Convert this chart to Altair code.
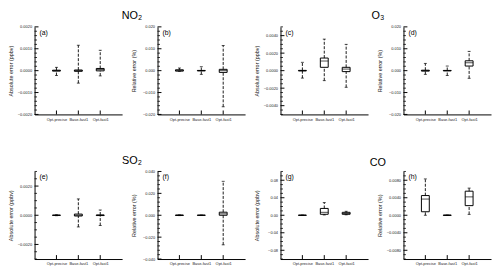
import altair as alt
import pandas as pd
import numpy as np

FONT = "Liberation Sans"
categories = ["Opt-precise", "Base-fast1", "Opt-fast1"]

# (a) NO2 absolute error (ppbv)
a_low  = [-0.00022, -0.00057, -0.00024]
a_q1   = [-0.00002, -0.00003, -0.00001]
a_med  = [0.0, 0.0, 0.00005]
a_q3   = [0.00002, 0.00003, 0.0001]
a_high = [0.00015, 0.00116, 0.00093]
# (b) NO2 relative error (%)
b_low  = [-0.0003, -0.0017, -0.0165]
b_q1   = [-0.0002, -0.0001, -0.0008]
b_med  = [0.0, 0.0, 0.0]
b_q3   = [0.0004, 0.0001, 0.0006]
b_high = [0.0012, 0.0018, 0.0115]
# (c) O3 absolute error (ppbv)
c_low  = [-0.00085, -0.00114, -0.0019]
c_q1   = [-0.00003, 0.00038, -0.00011]
c_med  = [0.0, 0.0011, 0.00018]
c_q3   = [0.00003, 0.00144, 0.00038]
c_high = [0.00095, 0.0036, 0.003]
# (d) O3 relative error (%)
d_low  = [-0.0017, -0.0022, -0.0035]
d_q1   = [-0.0002, -0.0001, 0.0021]
d_med  = [0.0, 0.0, 0.0036]
d_q3   = [0.0002, 0.0001, 0.0045]
d_high = [0.0033, 0.0021, 0.0088]
# (e) SO2 absolute error (ppbv)
e_low  = [-0.00003, -0.0008, -0.0007]
e_q1   = [-0.00001, -0.00005, -0.00002]
e_med  = [0.0, 0.0, 0.0]
e_q3   = [0.00001, 0.00008, 0.00002]
e_high = [0.00003, 0.00112, 0.00036]
# (f) SO2 relative error (%)
f_low  = [-0.0003, -0.0002, -0.027]
f_q1   = [-0.0002, -0.0001, 0.0]
f_med  = [0.0, 0.0, 0.0013]
f_q3   = [0.0002, 0.0001, 0.0028]
f_high = [0.0003, 0.0002, 0.031]
# (g) CO absolute error (ppbv)
g_low  = [-0.0005, 0.0007, 0.001]
g_q1   = [-0.0003, 0.0022, 0.0022]
g_med  = [0.0, 0.0067, 0.004]
g_q3   = [0.0003, 0.0156, 0.0067]
g_high = [0.0005, 0.029, 0.009]
# (h) CO relative error (%)
h_low  = [0.0, -0.00005, 0.0002]
h_q1   = [0.0008, -0.00003, 0.0022]
h_med  = [0.0037, 0.0, 0.0042]
h_q3   = [0.0045, 0.00003, 0.0055]
h_high = [0.0083, 0.00005, 0.0062]

ABS = "Absolute error (ppbv)"
REL = "Relative error (%)"

W, H = 89, 89


def panel(label, ytitle, low, q1, med, q3, high, dom, major, minor_step, fmt):
    df = pd.DataFrame({"cat": categories, "low": low, "q1": q1, "med": med,
                       "q3": q3, "high": high})
    yscale = alt.Scale(domain=dom, nice=False, zero=False)
    yaxis = alt.Axis(values=major, format=fmt, title=ytitle, ticks=False,
                     grid=False, labelFontSize=4, titleFontSize=5.5,
                     titleFontWeight="normal", titleColor="#222",
                     labelColor="#222", domainColor="black", domainWidth=1,
                     minExtent=19, maxExtent=19, labelPadding=3,
                     titlePadding=2, labelFlush=False)
    xenc = alt.X("cat:N", sort=categories,
                 scale=alt.Scale(type="point", domain=categories, padding=1),
                 axis=alt.Axis(title=None, labelAngle=0, ticks=False,
                               labelFontSize=4, labelColor="#222",
                               labelPadding=3, domainColor="black",
                               domainWidth=1, minExtent=10, maxExtent=10))
    base = alt.Chart(df).encode(x=xenc)

    def Y(f):
        return alt.Y(f + ":Q", scale=yscale, axis=yaxis)

    wh_up = base.mark_rule(color="black", strokeWidth=0.9, strokeDash=[3, 1.5]).encode(
        y=Y("q3"), y2="high")
    wh_dn = base.mark_rule(color="black", strokeWidth=0.9, strokeDash=[3, 1.5]).encode(
        y=Y("low"), y2="q1")
    box = base.mark_bar(size=8, fill="white", stroke="black", strokeWidth=1).encode(
        y=Y("q1"), y2="q3")
    mid = base.mark_tick(size=8, thickness=1, color="black").encode(y=Y("med"))
    cap_hi = base.mark_tick(size=3, thickness=1, color="black").encode(y=Y("high"))
    cap_lo = base.mark_tick(size=3, thickness=1, color="black").encode(y=Y("low"))

    xt = base.mark_rule(color="black", strokeWidth=1).encode(
        y=alt.value(H - 4), y2=alt.value(H))

    n = int(round((dom[1] - dom[0]) / minor_step))
    allv = [dom[0] + i * minor_step for i in range(n + 1)]
    minor_v = [v for v in allv if min(abs(v - m) for m in major) > minor_step / 4]
    tmaj = alt.Chart(pd.DataFrame({"v": major})).mark_rule(
        color="black", strokeWidth=1).encode(
        y=Y("v"), x=alt.value(0), x2=alt.value(4))
    tmin = alt.Chart(pd.DataFrame({"v": minor_v})).mark_rule(
        color="black", strokeWidth=0.8).encode(
        y=Y("v"), x=alt.value(0), x2=alt.value(2.5))
    lab = alt.Chart(pd.DataFrame({"t": [label]})).mark_text(
        align="left", baseline="top", fontSize=7, font=FONT, color="black").encode(
        text="t:N", x=alt.value(5), y=alt.value(2))

    return alt.layer(box, wh_up, wh_dn, mid, cap_hi, cap_lo, xt, tmaj, tmin,
                     lab).properties(width=W, height=H)


def ticks(step, k):
    return [round(i * step, 6) for i in range(-k, k + 1)]


pa = panel("(a)", ABS, a_low, a_q1, a_med, a_q3, a_high, [-0.002, 0.002],
           ticks(0.001, 2), 0.0002, ".4f")
pb = panel("(b)", REL, b_low, b_q1, b_med, b_q3, b_high, [-0.02, 0.02],
           ticks(0.01, 2), 0.002, ".3f")
pc = panel("(c)", ABS, c_low, c_q1, c_med, c_q3, c_high, [-0.005, 0.005],
           ticks(0.002, 2), 0.0005, ".4f")
pd_ = panel("(d)", REL, d_low, d_q1, d_med, d_q3, d_high, [-0.02, 0.02],
            ticks(0.01, 2), 0.002, ".3f")
pe = panel("(e)", ABS, e_low, e_q1, e_med, e_q3, e_high, [-0.003, 0.003],
           ticks(0.002, 1), 0.0005, ".4f")
pf = panel("(f)", REL, f_low, f_q1, f_med, f_q3, f_high, [-0.04, 0.04],
           ticks(0.02, 2), 0.004, ".3f")
pg = panel("(g)", ABS, g_low, g_q1, g_med, g_q3, g_high, [-0.1, 0.1],
           ticks(0.04, 2), 0.01, ".2f")
ph = panel("(h)", REL, h_low, h_q1, h_med, h_q3, h_high, [-0.01, 0.01],
           ticks(0.004, 2), 0.001, ".4f")


def pair(title, p1, p2):
    return alt.hconcat(p1, p2, spacing=8, title=alt.TitleParams(
        title, fontSize=11, font=FONT, fontWeight="normal", anchor="middle",
        offset=3, dx=5, color="black"))


row1 = alt.hconcat(pair("NO₂", pa, pb), pair("O₃", pc, pd_), spacing=8)
row2 = alt.hconcat(pair("SO₂", pe, pf), pair("CO", pg, ph), spacing=8)

chart = alt.vconcat(row1, row2, spacing=30).properties(
    padding=0, background="white"
).configure(font=FONT).configure_view(stroke="transparent")

chart.save("out.html", embed_options={"renderer": "svg", "actions": False})
